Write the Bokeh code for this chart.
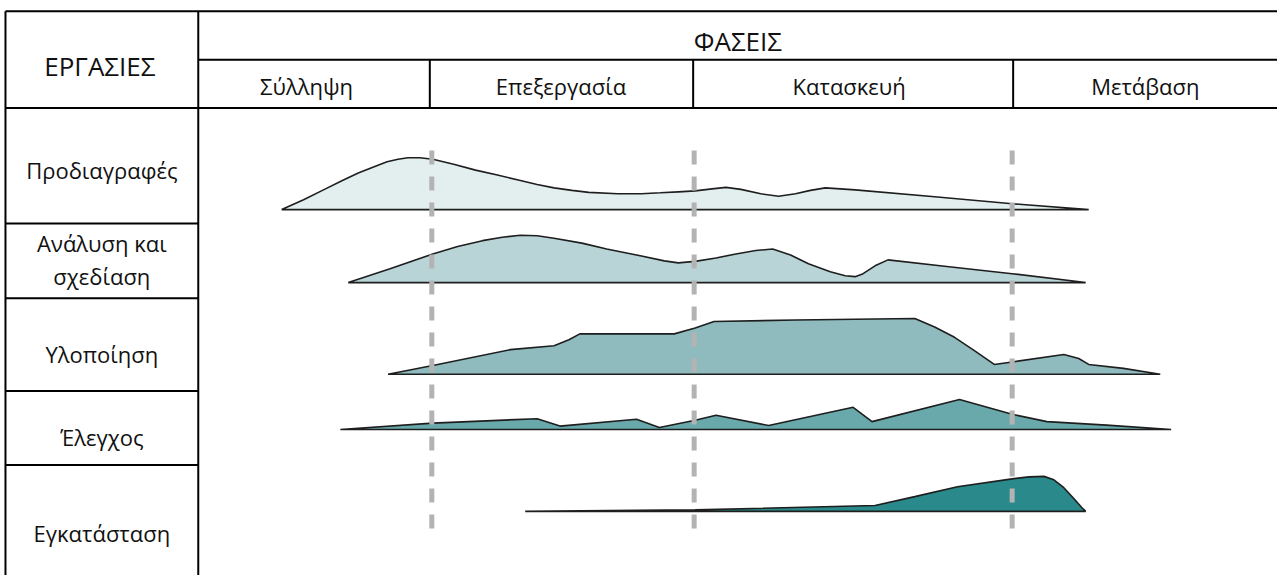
from bokeh.plotting import figure
from bokeh.models import Range1d
from bokeh.core.properties import value
from bokeh.embed import file_html
from bokeh.resources import INLINE

# ---------------- data ----------------
header_tasks = "ΕΡΓΑΣΙΕΣ"
header_phases = "ΦΑΣΕΙΣ"
phases = ["Σύλληψη", "Επεξεργασία", "Κατασκευή", "Μετάβαση"]
phase_centers = [308, 564, 854, 1152]
phase_bounds = [434, 698, 1018]          # timeline positions of phase changes

task_lines = ["Προδιαγραφές", "Ανάλυση και", "σχεδίαση", "Υλοποίηση", "Έλεγχος", "Εγκατάσταση"]
task_line_y = [172, 246, 279, 358, 443, 540]

row_bounds = [109, 226, 302, 396, 471]
baselines = [212, 286, 379, 435, 518]

# effort profiles per task (timeline position, effort height)
spec_x = [283, 305, 325, 343, 360, 376, 389, 400, 410, 422, 435, 456, 478, 500, 521, 540, 557, 575,
          592, 621, 645, 664, 682, 699, 716, 730, 745, 765, 783, 800, 815, 830, 860, 940, 1018, 1095]
spec_h = [0, 10, 20, 29, 37, 43.5, 48.5, 51, 52.5, 52.5, 51, 46, 40, 35, 30, 25.5, 22, 19.5,
          17.5, 16, 16, 17, 18, 19, 21, 22.5, 20.5, 16, 13.5, 16, 19.5, 22, 20, 13, 6, 0]

anal_x = [350, 392, 435, 460, 485, 505, 523, 540, 557, 585, 610, 645, 668, 682, 699, 720, 740, 760, 777,
          795, 813, 835, 850, 860, 868, 880, 893, 950, 1018, 1092]
anal_h = [0, 14, 29, 36.5, 42.5, 46, 48, 47.5, 45, 40, 34, 27, 22, 20, 21.5, 25, 29, 32.5, 34,
          28, 19, 11, 7, 6, 9, 17, 23, 16.5, 9, 0]

impl_x = [390, 435, 513, 557, 572, 583, 678, 699, 718, 800, 920, 940, 960, 980, 1000, 1018, 1070, 1085, 1095, 1130, 1167]
impl_h = [0, 9, 25, 29, 35, 41, 41, 47, 53.5, 55, 56.5, 48, 37.5, 24, 10, 12.5, 20, 16, 10, 6, 0]

test_x = [342, 435, 540, 563, 640, 663, 699, 720, 773, 858, 877, 965, 1018, 1053, 1113, 1178]
test_h = [0, 6.5, 11, 3.5, 10.5, 2, 9.5, 14.5, 4, 22.5, 8, 30.5, 15.5, 8, 4.5, 0]

inst_x = [528, 699, 880, 920, 963, 1018, 1035, 1050, 1060, 1070, 1080, 1088, 1092]
inst_h = [0, 1.5, 6, 15, 25, 33, 35, 35.5, 32, 24, 13, 4, 0]

profiles = [(spec_x, spec_h), (anal_x, anal_h), (impl_x, impl_h), (test_x, test_h), (inst_x, inst_h)]
fills = ["#e3efef", "#b8d4d7", "#8fbbbf", "#69a9ab", "#2a898b"]

# ---------------- figure ----------------
p = figure(width=1277, height=575, x_range=Range1d(0, 1285), y_range=Range1d(583, 0),
           output_backend="svg", toolbar_location=None, min_border=0,
           x_axis_location=None, y_axis_location=None)
p.outline_line_color = None
p.grid.visible = False
p.background_fill_color = "white"

FONT = value("Open Sans")

# ridges
for (xs, hs), base, col in zip(profiles, baselines, fills):
    px = list(xs) + [xs[-1], xs[0]]
    py = [base - h for h in hs] + [base, base]
    p.patch(px, py, fill_color=col, line_color="#1e1e1e", line_width=1.6)

# dashed phase boundaries over the ridges
p.segment(x0=phase_bounds, y0=[152] * 3, x1=phase_bounds, y1=[540] * 3,
          line_color="#b3b3b3", line_width=5, line_dash="14 12")

# table grid
LEFT, COLSEP, RIGHT, TOP = 5, 199, 1290, 11
HEAD_MID, HEAD_BOT = 60, 109
gx0 = [LEFT, LEFT, COLSEP, COLSEP, LEFT] + [LEFT] * (len(row_bounds) - 1) + [432, 697, 1019]
gy0 = [TOP, HEAD_BOT, HEAD_MID, TOP, TOP] + row_bounds[1:] + [HEAD_MID] * 3
gx1 = [RIGHT, RIGHT, RIGHT, COLSEP, LEFT] + [COLSEP] * (len(row_bounds) - 1) + [432, 697, 1019]
gy1 = [TOP, HEAD_BOT, HEAD_MID, 600, 600] + row_bounds[1:] + [HEAD_BOT] * 3
p.segment(x0=gx0, y0=gy0, x1=gx1, y1=gy1, line_color="black", line_width=2)

# texts
p.text(x=[100, 742], y=[66, 41], text=[header_tasks, header_phases], text_font=FONT,
       text_font_size=value("26px"), text_align="center", text_baseline="middle", text_color="#111111")
p.text(x=phase_centers, y=[87] * 4, text=phases, text_font=FONT,
       text_font_size=value("22px"), text_align="center", text_baseline="middle", text_color="#111111")
p.text(x=[102] * len(task_lines), y=task_line_y, text=task_lines, text_font=FONT,
       text_font_size=value("22px"), text_align="center", text_baseline="middle", text_color="#111111")

open("out.html", "w").write(file_html(p, INLINE))
